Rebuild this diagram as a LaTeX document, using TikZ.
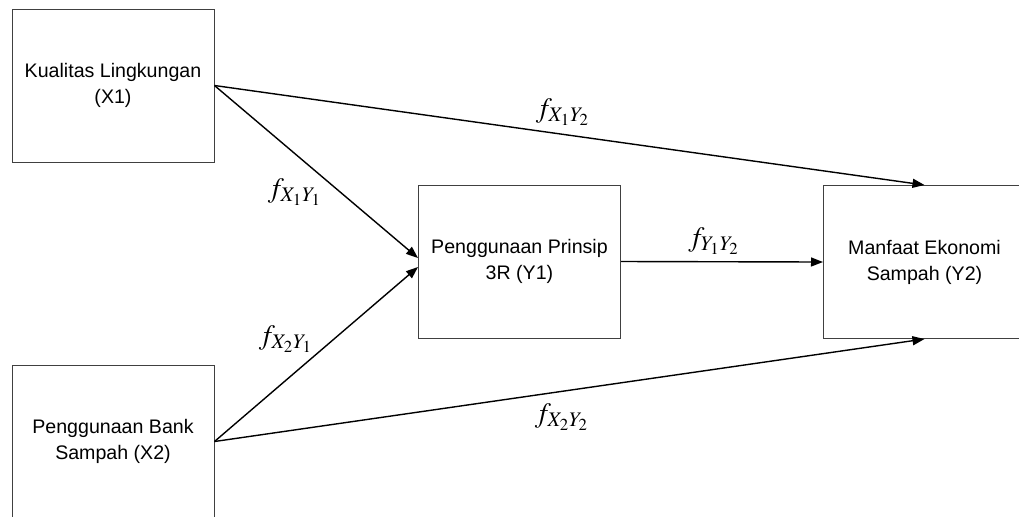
\documentclass[tikz,border=0pt]{standalone}
\usepackage{mathptmx}
\usepackage{fontspec}
\setmainfont{Liberation Sans}
\usetikzlibrary{arrows.meta,positioning,calc}

\begin{document}
\begin{tikzpicture}[
  x=0.5pt, y=-0.5pt,
  box/.style={draw=black!75, line width=0.5pt, minimum width=101pt, minimum height=76.5pt,
    align=center, inner sep=0pt, font=\fontsize{9.8}{13}\selectfont},
  arr/.style={-{Triangle[length=6pt,width=4.5pt]}, line width=0.7pt},
  lbl/.style={inner sep=0pt, font=\fontsize{14}{16}\selectfont}
]
\clip (0,0) rectangle (1019,516);

\node[box] (X1) at (113,85.5) {Kualitas Lingkungan\\(X1)};
\node[box] (X2) at (113,441.5) {Penggunaan Bank\\Sampah (X2)};
\node[box] (Y1) at (519.5,261.5) {Penggunaan Prinsip\\3R (Y1)};
\node[box] (Y2) at (924.5,262) {Manfaat Ekonomi\\Sampah (Y2)};

\draw[arr] (X1.east) -- (Y2.north);
\draw[arr] (X1.east) -- ([yshift=1.75pt]Y1.west);
\draw[arr] (X2.east) -- ([yshift=-2.75pt]Y1.west);
\draw[arr] (X2.east) -- (Y2.south);
\draw[arr] (Y1.east) -- (Y2.west);

\node[lbl] (fX1Y2) at (563,112) {$f_{X_1Y_2}$};
\node[lbl] (fX1Y1) at (295,192) {$f_{X_1Y_1}$};
\node[lbl] (fX2Y1) at (286,339) {$f_{X_2Y_1}$};
\node[lbl] (fX2Y2) at (562,417) {$f_{X_2Y_2}$};
\node[lbl] (fY1Y2) at (714,241) {$f_{Y_1Y_2}$};

\end{tikzpicture}
\end{document}
